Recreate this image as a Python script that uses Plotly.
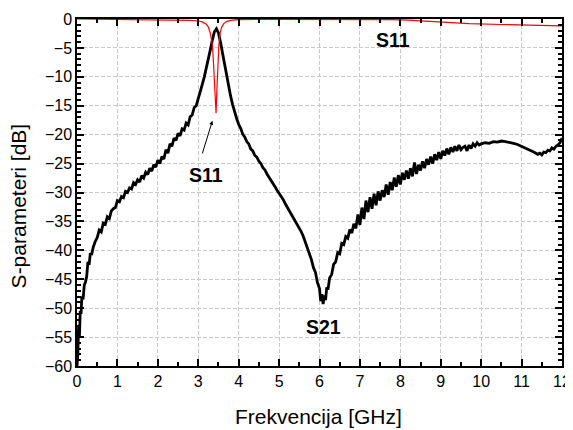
import plotly.graph_objects as go

# S21 (black)
s21_f = [0.00,0.02,0.04,0.06,0.08,0.10,0.12,0.15,0.18,0.21,0.24,0.27,0.30,0.33,0.36,0.40,0.45,0.50,0.55,0.60,
         0.65,0.70,0.75,0.80,0.85,0.90,0.95,1.00,1.05,1.10,1.15,1.20,1.25,1.30,1.35,1.40,1.45,1.50,1.55,1.60,
         1.65,1.70,1.75,1.80,1.85,1.90,1.95,2.00,2.05,2.10,2.15,2.20,2.25,2.30,2.35,2.40,2.45,2.50,2.55,2.60,
         2.65,2.70,2.75,2.80,2.85,2.90,2.95,3.00,3.05,3.10,3.15,3.20,3.25,3.30,3.35,3.40,3.45,3.50,3.55,3.60,
         3.65,3.70,3.75,3.80,3.85,3.90,3.95,4.00,4.05,4.10,4.15,4.20,4.25,4.30,4.35,4.40,4.45,4.50,4.55,4.60,
         4.65,4.70,4.75,4.80,4.85,4.90,4.95,5.00,5.05,5.10,5.15,5.20,5.25,5.30,5.35,5.40,5.45,5.50,5.55,5.60,
         5.65,5.70,5.75,5.80,5.85,5.90,5.95,6.00,6.03,6.06,6.09,6.12,6.15,6.18,6.21,6.25,6.30,6.35,6.40,6.45,
         6.50,6.55,6.60,6.65,6.70,6.75,6.80,6.85,6.90,6.95,7.00,7.05,7.10,7.15,7.20,7.25,7.30,7.35,7.40,7.45,
         7.50,7.55,7.60,7.65,7.70,7.75,7.80,7.85,7.90,7.95,8.00,8.05,8.10,8.15,8.20,8.25,8.30,8.35,8.40,8.45,
         8.50,8.55,8.60,8.65,8.70,8.75,8.80,8.85,8.90,8.95,9.00,9.05,9.10,9.15,9.20,9.25,9.30,9.35,9.40,9.45,
         9.50,9.55,9.60,9.65,9.70,9.75,9.80,9.85,9.90,9.95,10.00,10.10,10.20,10.30,10.40,10.50,10.60,10.70,10.80,10.90,
         11.00,11.10,11.20,11.30,11.40,11.45,11.50,11.55,11.60,11.65,11.70,11.75,11.80,11.85,11.90,11.95,12.00]
s21_db = [-60.0,-58.0,-53.0,-55.0,-50.5,-51.0,-48.0,-48.5,-46.0,-45.5,-44.5,-42.0,-42.5,-40.5,-40.8,-39.5,-38.5,-37.8,-36.5,-36.8,
          -35.3,-35.5,-34.2,-34.5,-33.2,-32.8,-32.6,-31.4,-31.6,-30.7,-30.9,-29.8,-30.0,-29.2,-29.4,-28.3,-28.6,-27.8,-28.2,-27.1,
          -27.5,-26.5,-26.9,-25.8,-26.3,-25.2,-25.6,-24.4,-25.0,-23.8,-24.2,-22.6,-23.2,-21.6,-22.0,-20.6,-21.0,-19.8,-20.2,-19.0,
          -19.2,-18.0,-18.3,-16.9,-16.6,-15.3,-15.0,-13.6,-12.7,-11.3,-10.0,-8.6,-7.0,-5.3,-3.6,-2.2,-1.7,-2.4,-4.0,-6.0,
          -7.9,-9.6,-11.5,-13.3,-14.8,-16.2,-17.2,-18.2,-18.9,-19.9,-20.4,-21.2,-21.6,-22.5,-22.8,-23.6,-23.9,-24.6,-25.0,-25.7,
          -26.1,-26.8,-27.3,-27.9,-28.5,-29.0,-29.6,-30.1,-30.8,-31.2,-31.9,-32.5,-33.2,-33.6,-34.3,-34.9,-35.6,-36.0,-36.8,-37.6,
          -38.6,-39.3,-40.6,-41.6,-43.0,-43.8,-45.6,-46.6,-48.8,-47.6,-49.3,-47.8,-48.6,-46.4,-46.8,-44.8,-44.2,-42.4,-42.0,-40.4,
          -40.6,-38.8,-39.0,-37.6,-37.9,-36.4,-37.0,-35.4,-36.2,-33.8,-35.6,-32.6,-34.6,-31.4,-33.4,-30.8,-32.8,-30.2,-32.2,-29.8,
          -31.4,-29.6,-30.8,-28.6,-30.4,-28.2,-29.6,-27.4,-29.0,-27.0,-28.6,-26.6,-27.8,-26.2,-27.6,-25.8,-27.2,-24.8,-26.8,-25.2,
          -26.2,-24.6,-25.8,-24.2,-25.2,-23.8,-25.0,-23.4,-24.4,-23.0,-24.2,-22.8,-23.6,-22.4,-23.4,-22.2,-23.0,-22.0,-22.8,-21.8,
          -22.6,-22.2,-22.0,-22.8,-21.8,-22.4,-21.6,-22.0,-21.4,-21.8,-21.6,-21.4,-21.5,-21.2,-21.3,-21.1,-21.2,-21.3,-21.5,-21.7,
          -22.0,-22.3,-22.7,-23.0,-23.4,-23.2,-23.5,-23.0,-23.1,-22.7,-22.8,-22.3,-22.5,-22.0,-21.8,-21.4,-20.6]

# S11 (red)
s11_f = [0.0,1.0,2.0,2.5,2.8,3.0,3.1,3.2,3.25,3.3,3.35,3.38,3.41,3.44,3.46,3.48,3.51,3.54,3.58,3.63,3.7,3.8,4.0,5.0,
         7.0,7.8,8.2,9.0,9.7,10.5,11.0,11.5,12.0]
s11_db = [0.0,-0.05,-0.1,-0.17,-0.25,-0.35,-0.5,-0.9,-1.4,-2.5,-4.5,-8.0,-12.5,-16.3,-12.5,-8.0,-4.5,-2.5,-1.4,-0.8,-0.45,-0.25,-0.1,-0.05,
          -0.05,-0.1,-0.2,-0.5,-0.8,-0.95,-1.05,-1.1,-1.2]

x_ticks = list(range(0, 13))
y_ticks = list(range(-60, 1, 5))

FONT = "Liberation Sans, Arial, sans-serif"

fig = go.Figure()
fig.add_trace(go.Scatter(x=s21_f, y=s21_db, mode="lines", name="S21",
                         line=dict(color="black", width=2.8)))
fig.add_trace(go.Scatter(x=s11_f, y=s11_db, mode="lines", name="S11",
                         line=dict(color="#ff0000", width=1.2)))

axis_common = dict(
    showline=True, linecolor="black", linewidth=1.5, mirror="allticks",
    ticks="inside", ticklen=7, tickwidth=1.5, tickcolor="black",
    showgrid=True, gridcolor="#c8c8c8", gridwidth=1, griddash="4px,2px",
    zeroline=False, automargin=False,
    tickfont=dict(family=FONT, size=16, color="black"),
)

fig.update_xaxes(range=[0, 12], tickvals=x_ticks,
                 minor=dict(dtick=0.5, ticks="inside", ticklen=4, tickwidth=1.5, tickcolor="black", showgrid=False),
                 **axis_common)
fig.update_yaxes(range=[-60, 0], tickvals=y_ticks,
                 minor=dict(dtick=1, ticks="inside", ticklen=4, tickwidth=1.5, tickcolor="black", showgrid=False),
                 **axis_common)

title_font = dict(family=FONT, size=21, color="black")
# axis titles
fig.add_annotation(text="Frekvencija [GHz]", xref="paper", yref="paper", x=0.497, y=0,
                   yshift=-50, xanchor="center", yanchor="middle", showarrow=False, font=title_font)
fig.add_annotation(text="S-parameteri [dB]", xref="paper", yref="paper", x=0, y=0.46,
                   xshift=-59, xanchor="center", yanchor="middle", textangle=-90, showarrow=False, font=title_font)

ann_font = dict(family=FONT, size=19.5, color="black")
fig.add_annotation(x=7.82, y=-3.6, text="<b>S11</b>", showarrow=False, font=ann_font)
fig.add_annotation(x=3.18, y=-27.0, text="<b>S11</b>", showarrow=False, font=ann_font)
fig.add_annotation(x=6.09, y=-53.2, text="<b>S21</b>", showarrow=False, font=ann_font)
fig.add_annotation(x=3.35, y=-17.6, ax=3.09, ay=-23.5, axref="x", ayref="y", text="",
                   showarrow=True, arrowhead=2, arrowsize=0.8, arrowwidth=1, arrowcolor="black")

# the page body adds an 8 px offset, so the figure is sized to fit the 573x430 window
fig.update_layout(
    width=565, height=422,
    margin=dict(l=69, r=11, t=11, b=64, autoexpand=False),
    paper_bgcolor="white", plot_bgcolor="white",
    showlegend=False,
    font=dict(family=FONT, color="black"),
)

fig.write_html("out.html")
